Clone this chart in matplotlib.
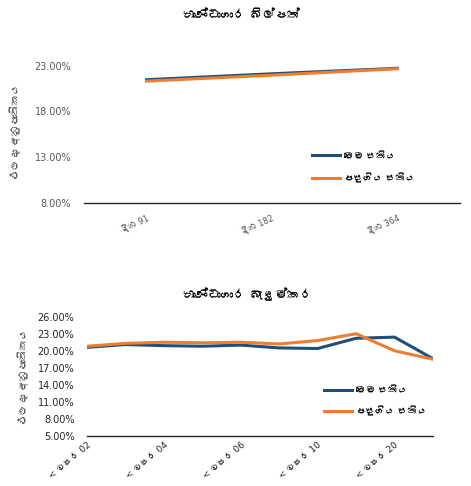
import matplotlib
matplotlib.use('Agg')
import matplotlib.pyplot as plt
from matplotlib import font_manager
from matplotlib.ft2font import FT2Font

# bill tenors and yields (%)
BILL_TENORS = ['දින 91', 'දින 182', 'දින 364']
BILL_THIS_WEEK = [21.45, 22.10, 22.70]
BILL_LAST_WEEK = [21.30, 21.95, 22.65]

# bond maturities and yields (%)
BOND_TENORS = ['< වසර 02', '< වසර 03', '< වසර 04', '< වසර 05', '< වසර 06',
               '< වසර 08', '< වසර 10', '< වසර 15', '< වසර 20', '< වසර 30']
BOND_THIS_WEEK = [20.6, 21.1, 20.9, 20.8, 21.0, 20.5, 20.4, 22.2, 22.4, 18.6]
BOND_LAST_WEEK = [20.8, 21.3, 21.5, 21.4, 21.5, 21.2, 21.8, 23.0, 20.0, 18.5]

LEGEND = ['මෙම සතිය', 'පසුගිය සතිය']
YLABEL = 'ඵලදා අනුපාතිකය'
TITLE_BILLS = 'භාණ්ඩාගාර බිල්පත්'
TITLE_BONDS = 'භාණ්ඩාගාර බැඳුම්කර'

BLUE = '#1f4e79'
ORANGE = '#ed7d31'


def sinhala_families():
    '''look for any installed font that actually has sinhala glyphs'''
    found = []
    for f in font_manager.fontManager.ttflist:
        try:
            if 0x0D9A in FT2Font(f.fname).get_charmap() and f.name not in found:
                found.append(f.name)
        except Exception:
            pass
    return found


# latin + digits from dejavu, sinhala falls through to whatever has it
plt.rcParams['font.family'] = ['DejaVu Sans'] + sinhala_families()[:1]

fig = plt.figure(figsize=(4.71, 4.86), dpi=100)


def style(ax, yticks, labelcolor):
    for side in ['top', 'right', 'left']:
        ax.spines[side].set_visible(False)
    ax.spines['bottom'].set_color('#262626')
    ax.spines['bottom'].set_linewidth(1.0)
    ax.set_yticks(yticks)
    ax.set_yticklabels([f'{v:.2f}%' for v in yticks])
    ax.tick_params(axis='both', length=0)
    ax.tick_params(axis='y', pad=9, labelsize=7, labelcolor=labelcolor)


# --- treasury bills
ax1 = fig.add_axes([0.178, 0.583, 0.798, 0.2915])
x1 = range(len(BILL_TENORS))
ax1.plot(x1, BILL_THIS_WEEK, color=BLUE, lw=2.2, label=LEGEND[0])
ax1.plot(x1, BILL_LAST_WEEK, color=ORANGE, lw=2.2, label=LEGEND[1])
ax1.set_xlim(-0.5, 2.5)
ax1.set_ylim(8, 23.5)
style(ax1, [8, 13, 18, 23], '#595959')
ax1.set_xticks(list(x1))
ax1.set_xticklabels(BILL_TENORS, rotation=25, ha='right', rotation_mode='anchor',
                    fontsize=6, color='#595959')
ax1.tick_params(axis='x', pad=8)
ax1.set_ylabel(YLABEL, fontsize=7.5, color='#595959', labelpad=10)
ax1.legend(frameon=False, loc='upper left', bbox_to_anchor=(0.662, 0.69),
           bbox_transform=fig.transFigure, fontsize=7, handlelength=2.9,
           handletextpad=0.4, labelspacing=1.3, borderpad=0, borderaxespad=0)
fig.text(0.512, 0.968, TITLE_BILLS, ha='center', va='center', fontsize=9,
         fontweight='bold')

# --- treasury bonds
ax2 = fig.add_axes([0.1847, 0.1029, 0.7346, 0.2455])
x2 = range(len(BOND_TENORS))
ax2.plot(x2, BOND_THIS_WEEK, color=BLUE, lw=2.2, label=LEGEND[0])
ax2.plot(x2, BOND_LAST_WEEK, color=ORANGE, lw=2.2, label=LEGEND[1])
ax2.set_xlim(0, len(BOND_TENORS) - 1)
ax2.set_ylim(5, 26)
style(ax2, list(range(5, 27, 3)), '#262626')
ax2.set_xticks(list(x2)[::2])
ax2.set_xticklabels(BOND_TENORS[::2], rotation=40, ha='right', rotation_mode='anchor',
                    fontsize=6.5, color='#262626')
ax2.tick_params(axis='x', pad=3)
ax2.set_ylabel(YLABEL, fontsize=7.5, color='#595959', labelpad=6)
ax2.legend(frameon=False, loc='upper left', bbox_to_anchor=(0.688, 0.208),
           bbox_transform=fig.transFigure, fontsize=7, handlelength=2.9,
           handletextpad=0.4, labelspacing=1.2, borderpad=0, borderaxespad=0)
fig.text(0.525, 0.391, TITLE_BONDS, ha='center', va='center', fontsize=9,
         fontweight='bold')

fig.savefig('out.png', dpi=100)
